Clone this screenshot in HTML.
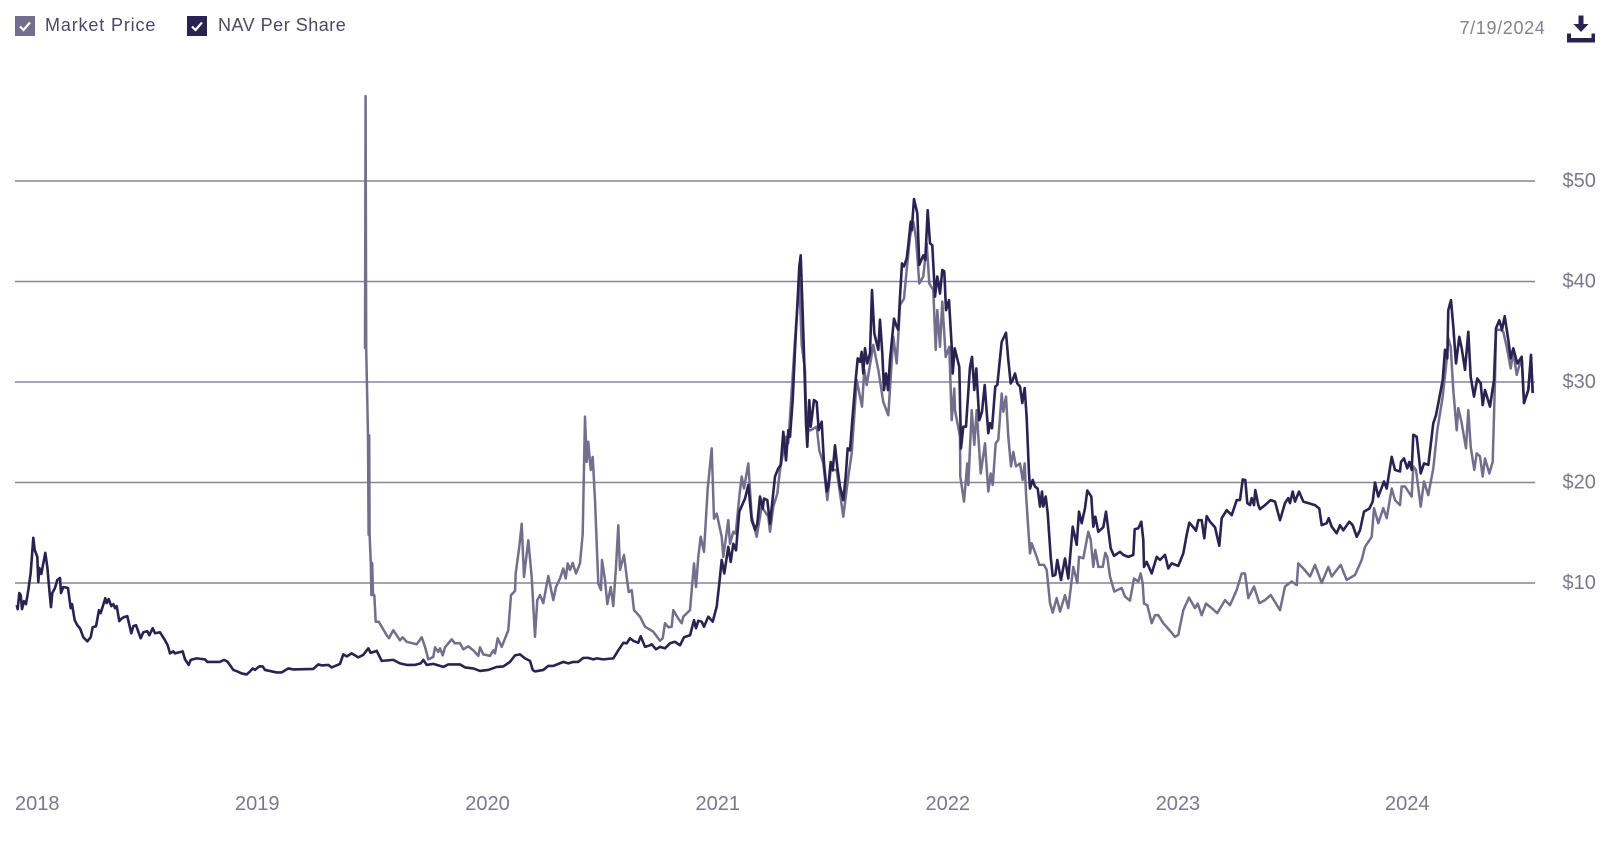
<!DOCTYPE html>
<html lang="en">
<head>
<meta charset="utf-8">
<title>Market Price vs NAV Per Share</title>
<style>
html,body{margin:0;padding:0;background:#fff;width:1621px;height:842px;overflow:hidden;font-family:"Liberation Sans",sans-serif}
#chart{position:absolute;left:0;top:0;width:1621px;height:842px}
.legend-entry{position:absolute;top:16px;height:20px;cursor:pointer}
.legend-box{position:absolute;left:0;top:0;width:20px;height:20px}
.legend-label{position:absolute;left:30px;top:-2px;font-size:18px;line-height:22px;letter-spacing:.85px;color:#4b4863;white-space:nowrap}
#date-label{position:absolute;left:1459.500px;top:17px;font-size:18px;line-height:22px;letter-spacing:.65px;color:#85828f;white-space:nowrap}
#download{position:absolute;left:1566px;top:14px;width:30px;height:30px;cursor:pointer}
</style>
</head>
<body>
<div class="legend-entry" style="left:15px;width:145px">
  <svg class="legend-box" viewBox="0 0 20 20"><rect width="20" height="20" fill="#736e8b"/><polyline points="5,10.5 8.5,14 15,6.5" fill="none" stroke="#fff" stroke-width="2.2"/></svg>
  <span class="legend-label">Market Price</span>
</div>
<div class="legend-entry" style="left:187px;width:165px">
  <svg class="legend-box" viewBox="0 0 20 20"><rect width="20" height="20" fill="#2a2250"/><polyline points="5,10.5 8.5,14 15,6.5" fill="none" stroke="#fff" stroke-width="2.2"/></svg>
  <span class="legend-label" style="left:31px;letter-spacing:.5px">NAV Per Share</span>
</div>
<div id="date-label">7/19/2024</div>
<svg id="download" viewBox="0 0 30 30">
  <path d="M12.5 1.5h5v8.5h5L15 18 7.500 10h5z" fill="#2a2250"/>
  <path d="M1 19.500h4v4.500h21v4.500H1zM25 24h4v4.500h-4z" fill="#2a2250"/>
  <rect x="25.500" y="19.500" width="3.500" height="9" fill="#2a2250"/>
</svg>
<svg id="chart" xmlns="http://www.w3.org/2000/svg" width="1621" height="842"></svg>
<script>
const yTicks = [10, 20, 30, 40, 50];
const xTickSessions = [12.6, 242, 472.3, 702.5, 932.5, 1162.7, 1392];
const xTickLabels = ["2018", "2019", "2020", "2021", "2022", "2023", "2024"];

const navSessions = [
1.7,2.7,4.3,5.7,7,9,11,13.3,15.7,18.3,19.7,22.3,23.3,24.3,26.3,30.3,32.3,35,36,37.3,
40,42.3,45,46,48.3,53,55.7,57,59.7,62.3,65,68.3,72.3,75.7,77.7,81,84,85.7,90.3,91.7,
93.7,96.3,98.3,100,101.7,104.3,107,109,112.3,116.3,118.3,121,125.7,128.3,132.3,134.3,137.7,140,145,150,
152.7,155,158.3,160,167.7,170,173.7,175.7,181.7,190,192.3,205,209,212.3,218.3,222.3,226.7,231.7,235,237.7,
240,244.3,247.7,250,261.7,266.7,273.3,278.3,298.3,303.3,306.7,313.3,316.7,325,328.3,331.7,336.7,343.3,348.3,353.3,
355.7,361.7,366.7,378.3,385,391.7,400,405.7,408.3,411.7,418.3,428.3,433.3,445,450,458.3,465,473.3,481.7,488.3,
495,500,505,510,515,517.7,520,528.3,533.3,538.3,548.3,553.3,558.3,563.3,568.3,573.3,578.3,581.7,588.3,598.3,
603.3,608.3,611.7,615,618.3,623.3,625.7,630,635,636.7,641,645,650,655,660,665,669,675,679,681,
683.3,686.7,689,693.3,697.7,701.7,704.3,706.7,709.3,713.3,715.7,718.3,721,724.3,730,733.3,736.7,740,742.3,745,
747.7,749,752.3,755,760,763.3,765.7,768.3,771,773.3,775,777.7,780.3,782.3,784.3,785.7,787.7,789.3,791,792.3,
794.3,795.7,799,801.7,803.7,806.7,809,811.7,813.3,815.7,817.7,820,822.3,825,828.3,830.7,832.7,835,837.3,840,
842.7,845,846.7,848.3,850,852.3,855,857,859.3,861.7,863.3,865,867.3,869,871,873,875,879,881.7,883.3,
885,887,889,891.7,893.3,895.7,896.7,899,902.3,904.3,908.3,910.3,912.7,915,917.3,920,922.3,925,927.3,929.3,
931,934,936.7,937.7,939.7,944.3,946,948.3,951,952.3,955,957,959.3,961.3,964.3,967,969.7,973.3,975,977,
980.3,982.3,986.7,991,993.3,995.7,997.7,1000,1002.3,1005,1007.3,1009.7,1011.7,1014,1015,1017.7,1020,1022.7,1025,1027,
1028.3,1030.7,1032.7,1035.7,1037.7,1040.3,1042.3,1046,1050,1053.3,1057.7,1061.7,1064,1066.7,1070,1072.3,1076.3,1078.3,1080.3,1083.3,
1088.3,1091,1093.3,1095.7,1099,1105,1108.3,1113.3,1118.3,1119.7,1123.3,1126.3,1128.3,1129,1131.7,1136.7,1141.7,1145,1150,1153.3,
1156.7,1163.3,1168.3,1171.7,1174.3,1178.3,1181,1183.3,1186.7,1189.3,1191.7,1195,1200,1204.3,1206.7,1211.7,1216.7,1221.7,1225,1227.7,
1230.3,1232.3,1235,1236.7,1239,1240.3,1243.3,1245,1250,1255.7,1260,1265,1270,1273.3,1275,1277.7,1280,1284,1288.3,1293.3,
1300,1304.3,1306.7,1311.7,1313.7,1316.7,1321.7,1325,1328.3,1334.3,1337.7,1341.7,1345,1349,1354.3,1357.7,1360,1363.3,1369,1371.7,
1376.7,1380,1385,1386,1389,1392.3,1394.3,1396.7,1398.3,1401.7,1405.7,1409,1413.3,1418.3,1421,1424.3,1427.7,1430,1432.3,1433.3,
1436,1438.3,1441,1444.3,1446.7,1450,1453.3,1455.7,1459,1462.3,1465.7,1467.7,1470,1475,1479,1481,1484.3,1487,1489.7,1493.3,
1495.7,1498.3,1502.3,1506.7,1509,1513.3,1516,1517.7
];
const navValues = [
7.8,7.4,9.0,8.8,7.4,8.2,7.9,9.3,11.0,14.5,13.3,12.6,10.1,11.5,10.9,13.0,11.6,8.6,7.6,9.0,
9.5,10.3,10.5,9.0,9.6,9.5,7.5,7.9,6.3,5.8,5.5,4.6,4.2,4.6,5.6,5.7,7.3,7.0,8.5,8.0,
8.4,7.7,7.9,7.5,7.7,6.2,6.5,6.6,6.7,5.0,5.7,5.8,4.5,5.1,5.2,4.8,5.5,5.0,5.1,4.3,
3.8,3.0,3.2,3.0,3.2,2.4,1.85,2.35,2.5,2.4,2.15,2.15,2.35,2.2,1.35,1.2,1.0,0.9,1.2,1.5,
1.35,1.7,1.7,1.35,1.1,1.1,1.5,1.4,1.45,1.9,1.8,1.85,1.6,1.95,2.9,2.7,3.0,2.6,2.85,3.5,
3.05,3.25,2.25,2.35,2.0,1.85,1.85,2.0,2.35,1.85,1.95,1.65,1.9,1.9,1.6,1.5,1.25,1.35,1.65,1.7,
2.15,2.8,2.9,2.5,2.25,1.35,1.2,1.35,1.75,1.75,2.15,2.0,2.15,2.15,2.55,2.55,2.4,2.5,2.4,2.5,
3.3,4.05,4.0,4.5,4.25,4.05,4.7,3.65,3.8,3.9,3.4,3.65,3.5,4.0,4.15,3.8,4.6,4.8,6.3,5.5,
6.25,6.15,5.65,6.65,6.15,7.65,9.95,12.3,10.95,13.6,12.1,13.9,13.25,17.1,18.4,19.75,16.25,15.3,15.9,18.6,
17.4,18.4,18.25,15.9,20.6,21.4,21.75,25.05,22.2,25.2,24.55,28.2,33.85,37.5,41.5,42.6,36.8,31.85,25.9,23.55,
28.2,25.55,28.2,28.0,25.2,26.05,21.9,19.1,19.6,22.05,21.2,23.7,21.55,19.6,18.25,20.6,23.4,23.2,26.2,29.5,
32.35,32.0,33.0,30.85,33.35,31.85,32.85,39.15,34.85,33.85,33.2,36.2,32.85,29.2,30.85,29.2,32.2,36.3,35.5,35.2,
38.5,41.8,41.5,42.3,43.6,45.95,45.1,48.2,46.8,41.65,42.6,42.15,47.1,43.8,43.6,38.5,40.5,38.8,41.15,41.0,
37.15,38.15,33.5,30.85,33.35,31.5,23.4,25.55,25.55,27.55,31.5,32.5,29.2,31.35,26.2,27.05,29.7,24.9,25.9,25.4,
29.55,29.7,34.0,34.9,32.2,29.85,30.2,30.85,29.85,29.55,27.9,29.4,26.4,20.9,19.4,20.25,19.6,19.4,17.6,19.1,
17.6,18.6,16.95,12.6,10.7,10.8,12.3,10.3,12.45,10.45,15.6,13.8,17.1,15.95,17.45,19.2,18.6,15.6,16.6,15.1,
15.55,17.1,15.3,13.45,12.7,13.1,12.8,12.6,12.8,15.35,15.45,16.1,14.3,11.6,12.1,10.95,12.6,12.3,12.8,11.45,
11.95,11.7,12.95,14.8,16.0,15.55,15.2,16.25,16.25,14.45,16.65,16.1,15.55,13.7,16.45,17.25,16.75,18.25,18.25,20.3,
20.25,17.95,17.75,18.45,17.75,19.25,17.75,17.35,17.75,18.25,18.1,16.25,17.95,18.45,17.95,19.1,18.1,19.1,18.1,17.95,
17.75,17.4,15.75,15.95,16.45,15.6,14.95,15.75,15.25,16.1,15.75,14.6,15.25,17.1,17.4,18.1,20.0,18.6,20.1,19.4,
22.55,21.25,21.1,22.05,22.4,21.4,22.05,21.25,24.75,24.55,20.9,21.9,21.75,25.9,26.7,28.4,30.2,33.2,32.35,37.15,
38.15,35.5,31.85,34.5,33.35,31.2,35.0,30.5,28.55,30.35,29.85,27.7,29.2,27.55,30.2,35.35,36.15,35.2,36.55,34.2,
32.35,33.35,31.85,32.5,27.9,29.2,32.7,28.9
];

const marketSessions = [
350,350.6,351.2,353,353.6,354.2,354.6,355.8,356.4,357.2,358,359.3,360.7,363.7,371.7,374,378.3,385,
387.7,391.7,401.7,406.7,410,413.3,418.3,420,423.3,425,427.7,430,436.7,440,445,448.3,453.3,458.3,463.3,465,
468.3,475,478.3,480,482.7,486.7,493.3,496,500,500.7,504.3,506.7,509,511,513.3,516.7,520,522.3,525,528.3,
533.3,538.3,541,545,548.3,550.7,552.7,555,557.7,561,565,567.7,570,571.7,573.3,575.7,577.7,580,583.3,586,
587,590,592.3,595.7,598.3,601,603.3,605,609,611.7,613.7,616.7,619,625,630,638.3,645,647.7,650,653.3,
656.7,658.3,663.3,666.7,668.3,675,679,681,683.3,685.7,689,692.7,696.7,699,701.7,706.7,708.3,713.3,715,718.3,
720.7,724.3,726.7,729,733.3,736.7,741.7,746.7,753.3,755,758.3,762.3,765,771,773.3,780,784.3,786.7,790,791.7,
795.7,801.7,804.3,808.3,812.3,815.7,821.7,828.3,833.3,836.7,841.7,847,849.3,851.7,858.3,863.3,868.3,873.3,878.3,881.7,
885,889,891.7,895,898.3,901,904.3,908.3,911.7,914.3,918.3,920.7,922.3,925,927.3,930.7,934.3,936.7,939.3,940,
945,945.3,949,952.3,953.3,956.7,959.3,961.7,965.7,970,973.3,975.7,977.7,980.7,983.3,986.7,988.3,991,993.3,996,
998.3,1001,1005,1007.7,1009.7,1011,1012.7,1015,1016.7,1021.7,1024.3,1029,1031.7,1035,1037.7,1041.7,1045,1050,1053.3,1058.3,
1062.3,1064,1068.3,1073.3,1075.7,1078.3,1080.3,1083.3,1087.7,1090.3,1092.3,1095,1099.3,1106.7,1110,1115,1119,1123.3,1125.7,1127.7,
1129,1132.3,1136.7,1140,1143.3,1148.3,1155,1160,1163.3,1168.3,1174,1180,1182.7,1186.7,1191,1196.7,1202.3,1210,1215,1221.7,
1226.7,1230,1233.3,1239,1244.3,1250,1255.7,1265,1270,1276.7,1281.7,1283.3,1288.3,1295,1300,1306.7,1313.3,1316.7,1325.7,1331.7,
1340,1346.7,1350,1356.7,1359,1363.3,1368.3,1371.7,1376.7,1380,1385,1386.7,1390,1396.7,1398.3,1401,1405.7,1409,1413.3,1418.3,
1422.3,1427.7,1431.7,1433.3,1435.7,1438.3,1441.7,1443.3,1446.7,1451,1453.3,1455.7,1459.3,1461.7,1465,1467.7,1470,1474.3,1477.7,1480,
1481,1485,1488.3,1491.7,1495.7,1498.3,1501.7,1506.7,1509,1513.3,1516,1517.7
];
const marketValues = [
33.3,58.45,33.3,24.7,14.8,24.7,14.8,12.0,8.8,12.0,8.8,8.8,6.15,6.15,4.8,4.5,5.3,4.3,
4.6,4.15,3.9,4.6,3.65,2.4,2.65,3.6,3.15,3.5,2.8,3.6,4.4,4.0,4.0,3.4,3.7,3.3,2.75,3.6,
2.9,2.75,3.3,3.0,4.5,3.65,5.3,8.8,9.2,10.95,13.6,15.9,10.6,12.3,14.25,10.6,4.65,8.3,8.8,8.0,
10.7,8.3,9.6,10.45,11.45,10.45,11.95,11.3,12.0,10.95,11.95,14.9,26.55,22.05,24.05,21.25,22.55,18.25,9.95,9.3,
12.3,10.3,7.9,9.6,7.7,11.6,15.75,11.3,12.8,10.6,9.1,9.3,7.3,6.65,5.65,5.15,4.25,4.5,6.0,5.6,
5.65,7.3,6.45,6.0,6.65,7.3,11.95,9.6,12.6,14.6,13.1,19.4,23.4,16.4,16.9,14.6,12.6,16.25,13.9,15.1,
14.9,18.6,20.6,19.4,21.9,16.6,14.6,17.6,16.6,15.1,17.6,18.9,21.25,24.55,23.9,34.2,40.15,33.7,31.2,25.2,
25.2,25.55,23.2,21.9,18.25,21.25,21.25,16.6,20.6,22.9,30.2,27.55,31.2,29.7,33.7,31.2,28.0,26.7,34.5,31.85,
37.65,38.3,41.15,44.45,45.95,44.3,39.8,40.5,43.8,39.8,39.15,33.2,37.15,33.5,38.0,32.5,33.5,26.2,29.35,27.2,
24.55,20.6,18.1,21.9,19.75,27.2,23.75,27.2,20.9,23.9,19.1,20.9,19.75,23.9,24.25,28.85,27.05,28.55,24.55,21.6,
23.05,21.6,21.9,20.25,21.9,18.9,16.25,12.95,13.95,12.6,11.8,11.8,11.3,8.0,7.05,8.5,7.15,8.8,7.5,11.6,
10.0,12.6,12.45,15.1,14.3,11.6,13.3,11.6,11.6,13.0,12.6,10.65,9.15,9.5,8.65,8.25,10.45,10.15,10.95,9.95,
7.95,7.8,6.0,6.8,6.8,6.0,5.25,4.65,4.85,7.3,8.55,7.5,7.95,6.8,7.95,7.5,7.0,8.3,7.8,9.3,
10.95,10.95,8.5,9.65,8.0,8.3,8.8,7.3,9.65,10.15,9.8,11.95,11.45,10.65,11.8,10.0,11.6,10.65,11.8,10.3,
10.8,12.3,13.6,14.6,17.45,15.95,17.45,16.45,19.4,18.25,17.75,19.6,19.6,18.6,21.6,21.25,17.6,20.1,18.75,21.4,
25.2,28.55,32.2,34.35,33.5,29.2,25.2,27.4,25.9,23.4,27.2,23.55,21.25,22.9,22.6,20.6,22.4,20.9,22.05,30.2,
35.2,35.2,35.0,33.5,31.35,33.0,30.7,32.5,27.9,29.2,32.5,28.9
];

const SVG_NS = 'http://www.w3.org/2000/svg';
const svg = document.getElementById('chart');
const sessionDomain = [0, 1518];
const pixelRangeX = [15, 1533];
const valueDomain = [0, 60];
const pixelRangeY = [683.5, 80.5];
function xScale(s) {
  return pixelRangeX[0] + (s - sessionDomain[0]) * (pixelRangeX[1] - pixelRangeX[0]) / (sessionDomain[1] - sessionDomain[0]);
}
function yScale(v) {
  return pixelRangeY[0] + (v - valueDomain[0]) * (pixelRangeY[1] - pixelRangeY[0]) / (valueDomain[1] - valueDomain[0]);
}
function linePath(xs, ys) {
  return xs.map(function (s, i) {
    return (i ? 'L' : 'M') + xScale(s).toFixed(2) + ' ' + yScale(ys[i]).toFixed(2);
  }).join('');
}

yTicks.forEach(function (t) {
  const line = document.createElementNS(SVG_NS, 'line');
  
  
  line.setAttribute('x1', 15);
  line.setAttribute('x2', 1535);
  line.setAttribute('y1', yScale(t));
  line.setAttribute('y2', yScale(t));
  line.setAttribute('stroke', '#86839a');
  line.setAttribute('stroke-width', '1.4');
  svg.appendChild(line);

  const label = document.createElementNS(SVG_NS, 'text');
  
  
  label.setAttribute('x', 1562.5);
  label.setAttribute('y', yScale(t) + 6);
  label.setAttribute('font-family', '"Liberation Sans", sans-serif');
  label.setAttribute('font-size', '20');
  label.setAttribute('fill', '#7b788c');
  label.textContent = '$' + t;
  svg.appendChild(label);
});

xTickSessions.forEach(function (s, i) {
  const label = document.createElementNS(SVG_NS, 'text');
  
  
  label.setAttribute('x', Math.max(15, xScale(s) - 22));
  label.setAttribute('y', 810);
  label.setAttribute('font-family', '"Liberation Sans", sans-serif');
  label.setAttribute('font-size', '20');
  label.setAttribute('fill', '#7b788c');
  label.textContent = xTickLabels[i];
  svg.appendChild(label);
});

const marketLine = document.createElementNS(SVG_NS, 'path');


marketLine.setAttribute('d', linePath(marketSessions, marketValues));
marketLine.setAttribute('fill', 'none');
marketLine.setAttribute('stroke', '#736e8b');
marketLine.setAttribute('stroke-width', '2.5');
marketLine.setAttribute('stroke-linejoin', 'round');
svg.appendChild(marketLine);

const navLine = document.createElementNS(SVG_NS, 'path');


navLine.setAttribute('d', linePath(navSessions, navValues));
navLine.setAttribute('fill', 'none');
navLine.setAttribute('stroke', '#2a2250');
navLine.setAttribute('stroke-width', '2.6');
navLine.setAttribute('stroke-linejoin', 'round');
svg.appendChild(navLine);
</script>
</body>
</html>
